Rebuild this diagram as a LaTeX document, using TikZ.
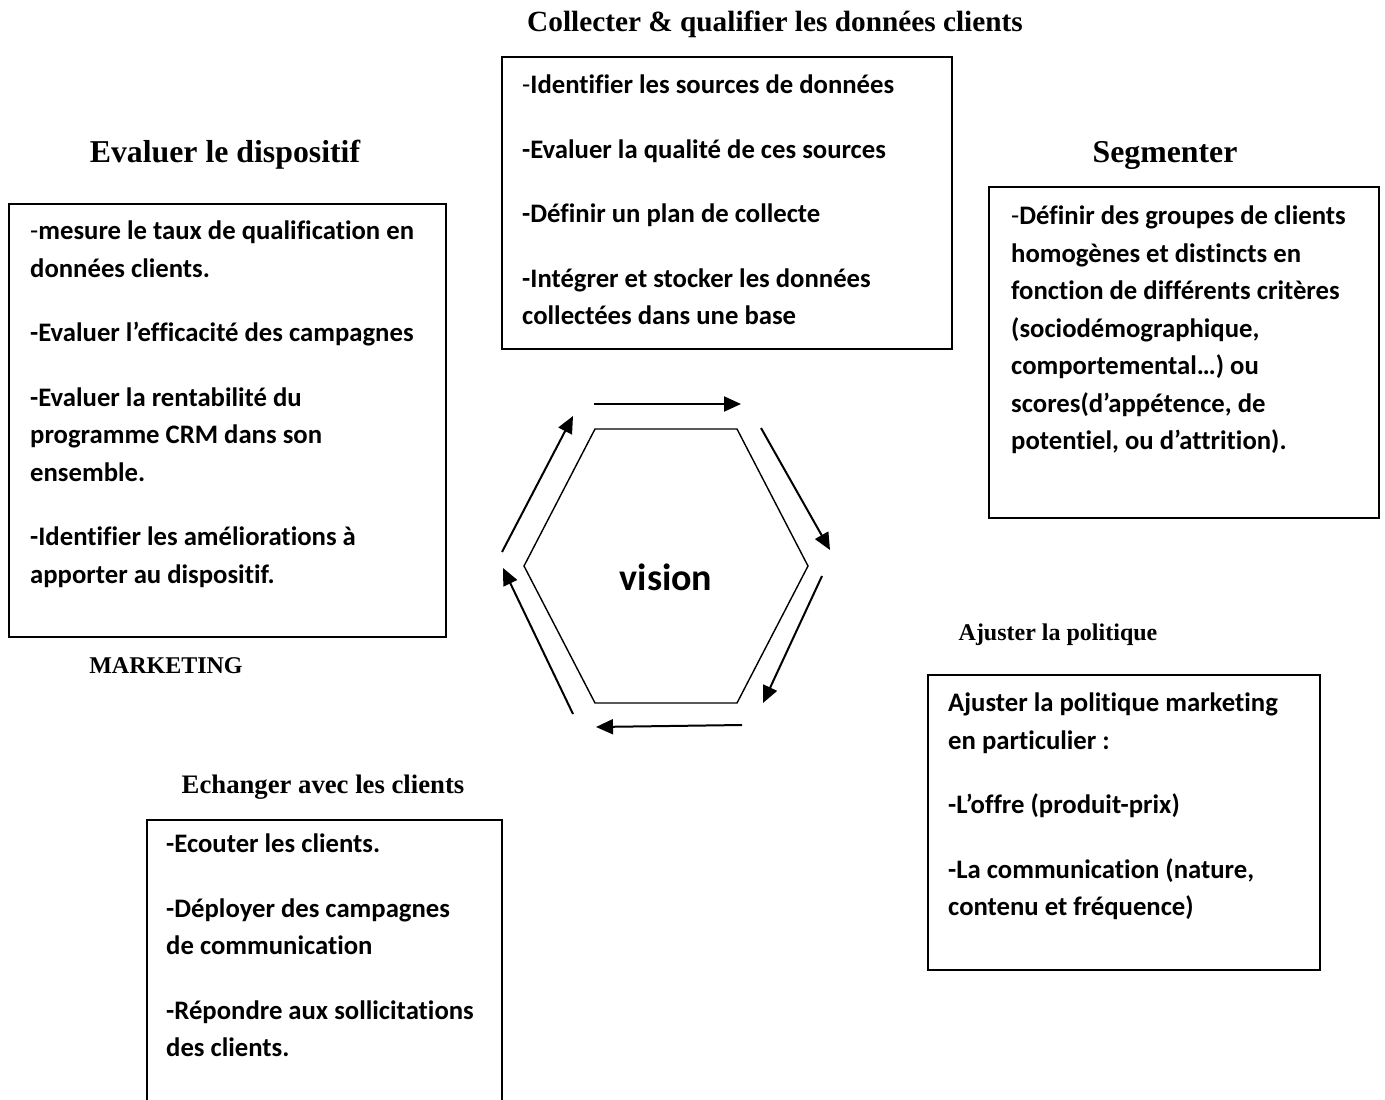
\documentclass[tikz,border=0pt]{standalone}
\usepackage{fontspec}
\setmainfont{Carlito}[Ligatures=NoCommon]
\newfontfamily\ttlfont{Liberation Serif}
\usetikzlibrary{arrows.meta}

\begin{document}
\begin{tikzpicture}[x=1pt,y=-1pt,
  box/.style={draw,line width=1.5pt},
  body/.style={anchor=north west,align=left,inner sep=0pt,
    font=\fontsize{26.7}{37.5}\selectfont\bfseries},
  ttlbig/.style={inner sep=0pt,font=\fontsize{31.8}{34}\selectfont\ttlfont\bfseries},
  ttlmid/.style={inner sep=0pt,font=\fontsize{29.3}{32}\selectfont\ttlfont\bfseries},
  ttlexch/.style={inner sep=0pt,font=\fontsize{26.7}{30}\selectfont\ttlfont\bfseries},
  ttlsmall/.style={inner sep=0pt,font=\fontsize{24}{28}\selectfont\ttlfont\bfseries},
  flow/.style={line width=2pt,-{Triangle[length=17pt,width=15pt]}},
  hexline/.style={line width=1.4pt}]
\useasboundingbox (0,0) rectangle (1385,1100);

% section titles
\node[ttlmid] (tcollect) at (775,24) {Collecter \& qualifier les données clients};
\node[ttlbig] (teval) at (225,155) {Evaluer le dispositif};
\node[ttlbig] (tseg) at (1165,155) {Segmenter};
\node[ttlsmall] (tadjust) at (1058,635) {Ajuster la politique};
\node[ttlsmall] (tmkt) at (166,666) {MARKETING};
\node[ttlexch] (texch) at (323,787) {Echanger avec les clients};

% framed boxes
\draw[box] (502,57) rectangle (952,349);
\draw[box] (9,204) rectangle (446,637);
\draw[box] (989,187) rectangle (1379,518);
\draw[box] (928,675) rectangle (1320,970);
\draw[box] (147,1110) -- (147,820) -- (502,820) -- (502,1110);

% box contents
\node[body] (bcollect) at (522,75) {%
  \textmd{-}Identifier les sources de données\\[27pt]
  -Evaluer la qualité de ces sources\\[27pt]
  -Définir un plan de collecte\\[27pt]
  -Intégrer et stocker les données\\
  collectées dans une base};
\node[body] (beval) at (30,221) {%
  \textmd{-}mesure le taux de qualification en\\
  données clients.\\[27pt]
  -Evaluer l’efficacité des campagnes\\[27pt]
  -Evaluer la rentabilité du\\
  programme CRM dans son\\
  ensemble.\\[27pt]
  -Identifier les améliorations à\\
  apporter au dispositif.};
\node[body] (bseg) at (1011,206) {%
  \textmd{-}Définir des groupes de clients\\
  homogènes et distincts en\\
  fonction de différents critères\\
  (sociodémographique,\\
  comportemental…) ou\\
  scores(d’appétence, de\\
  potentiel, ou d’attrition).};
\node[body] (badjust) at (948,693) {%
  Ajuster la politique marketing\\
  en particulier :\\[27pt]
  -L’offre (produit-prix)\\[27pt]
  -La communication (nature,\\
  contenu et fréquence)};
\node[body] (bexch) at (166,834) {%
  -Ecouter les clients.\\[27pt]
  -Déployer des campagnes\\
  de communication\\[27pt]
  -Répondre aux sollicitations\\
  des clients.};

% central hexagon
\coordinate (h1) at (595,429);
\coordinate (h2) at (737,429);
\coordinate (h3) at (808,566);
\coordinate (h4) at (737,703);
\coordinate (h5) at (595,703);
\coordinate (h6) at (524,566);
\draw[hexline] (h1) -- (h2) -- (h3) -- (h4) -- (h5) -- (h6) -- cycle;
\node[font=\fontsize{38}{42}\selectfont\bfseries] (vision) at (666,577) {vision};

% cycle arrows around the hexagon
\coordinate (a1s) at (594,404);  \coordinate (a1e) at (741,404);
\coordinate (a2s) at (761,428);  \coordinate (a2e) at (830,550);
\coordinate (a3s) at (822,576);  \coordinate (a3e) at (763,703);
\coordinate (a4s) at (742,725);  \coordinate (a4e) at (596,727);
\coordinate (a5s) at (573,714);  \coordinate (a5e) at (503,568);
\coordinate (a6s) at (502,552);  \coordinate (a6e) at (573,416);
\draw[flow] (a1s) -- (a1e);
\draw[flow] (a2s) -- (a2e);
\draw[flow] (a3s) -- (a3e);
\draw[flow] (a4s) -- (a4e);
\draw[flow] (a5s) -- (a5e);
\draw[flow] (a6s) -- (a6e);
\end{tikzpicture}
\end{document}
